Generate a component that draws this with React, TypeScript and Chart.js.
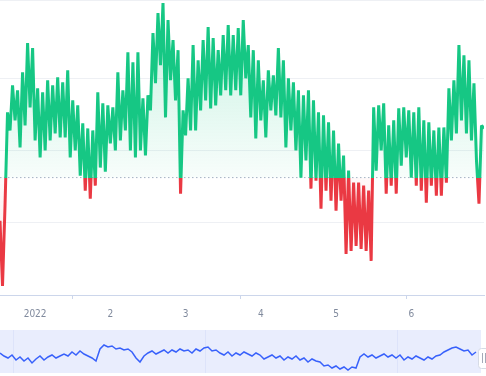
import React, { useEffect, useRef } from "react";
import { Chart, registerables } from "chart.js";

Chart.register(...registerables);

// ---- data ----
const MONTH_TICKS = [14, 44, 74, 104, 134, 164];
const MONTH_LABELS = ["2022", "2", "3", "4", "5", "6"];
const MINOR_TICKS = [29, 96, 162];
const X_MAX = 193;
const Y_MAX = 294;
const GRID_STEP = 72;
const BASELINE = 117;

const PRICE = [
  74, 9, 89, 182, 164, 209, 174, 204, 147, 222,
  169, 251, 187, 246, 154, 206, 137, 202, 144, 214,
  154, 209, 161, 217, 157, 212, 157, 224, 137, 194,
  144, 189, 119, 171, 104, 166, 96, 164, 109, 202,
  127, 191, 123, 189, 151, 187, 144, 222, 154, 204,
  164, 242, 144, 232, 137, 242, 144, 196, 139, 199,
  184, 261, 211, 281, 229, 291, 177, 274, 214, 254,
  194, 244, 101, 184, 159, 216, 164, 249, 164, 234,
  184, 254, 194, 267, 186, 256, 189, 244, 199, 259,
  204, 269, 199, 259, 204, 266, 199, 274, 216, 249,
  177, 244, 156, 234, 174, 214, 157, 224, 184, 219,
  179, 246, 177, 234, 147, 216, 164, 212, 144, 204,
  117, 199, 134, 204, 106, 194, 114, 182, 86, 179,
  104, 172, 94, 164, 84, 151, 94, 139, 41, 124,
  44, 112, 49, 112, 46, 109, 44, 104, 34, 187,
  124, 189, 144, 191, 101, 169, 109, 174, 101, 186,
  129, 187, 137, 184, 117, 182, 109, 187, 104, 174,
  92, 172, 109, 164, 99, 167, 99, 167, 112, 206,
  154, 214, 161, 249, 174, 239, 161, 234, 154, 211,
  134, 91, 169, 166,
];

const NAV_VALUES = [
  20, 17, 15, 18, 13, 16, 12, 15, 10, 14,
  17, 13, 16, 18, 15, 17, 19, 17, 21, 18,
  22, 19, 17, 15, 12, 24, 28, 26, 27, 24,
  25, 23, 24, 21, 15, 11, 17, 20, 22, 19,
  21, 23, 20, 23, 21, 24, 22, 23, 20, 24,
  22, 25, 26, 22, 23, 20, 18, 21, 17, 20,
  18, 21, 19, 17, 20, 18, 14, 16, 18, 15,
  17, 13, 16, 14, 17, 13, 15, 11, 14, 12,
  11, 7, 8, 5, 7, 4, 6, 3, 6, 5,
  16, 19, 16, 18, 15, 17, 19, 16, 18, 15,
  18, 13, 16, 14, 17, 15, 13, 16, 14, 17,
  18, 21, 23, 25, 26, 24, 22, 23, 18, 21,
];
const NAV_GRID = [3.25, 51.25, 99.25];
const NAV_X_MAX = 120.25;
const NAV_Y_MAX = 43;

// ---- styles ----
const GREEN = "#16c784";
const RED = "#ea3943";
const AXIS_COLOR = "#ccd6eb";
const GRID_COLOR = "#eef0f4";
const LABEL_COLOR = "#808a9d";
const NAV_BG = "#e9edfd";
const NAV_LINE = "#3861fb";
const FONT_FAMILY = "'Liberation Sans Narrow', 'DejaVu Sans Condensed', Roboto, sans-serif";

function baselineStop(chart: any): number | null {
  const area = chart.chartArea;
  if (!area || !chart.scales.y) return null;
  const y = chart.scales.y.getPixelForValue(BASELINE);
  return Math.min(1, Math.max(0, (y - area.top) / (area.bottom - area.top)));
}

const lineColor = (ctx: any) => {
  const chart = ctx.chart;
  const stop = baselineStop(chart);
  if (stop === null) return GREEN;
  const a = chart.chartArea;
  const g = chart.ctx.createLinearGradient(0, a.top, 0, a.bottom);
  g.addColorStop(0, GREEN);
  g.addColorStop(stop, GREEN);
  g.addColorStop(stop, RED);
  g.addColorStop(1, RED);
  return g;
};

const fillColor = (ctx: any) => {
  const chart = ctx.chart;
  const stop = baselineStop(chart);
  if (stop === null) return "rgba(22,199,132,0.1)";
  const a = chart.chartArea;
  const g = chart.ctx.createLinearGradient(0, a.top, 0, a.bottom);
  g.addColorStop(0, "rgba(22,199,132,0.26)");
  g.addColorStop(stop, "rgba(22,199,132,0.03)");
  g.addColorStop(stop, "rgba(234,57,67,0.03)");
  g.addColorStop(1, "rgba(234,57,67,0.14)");
  return g;
};

const navBackground = {
  id: "navBackground",
  beforeDraw(chart: any) {
    const { ctx, chartArea: a } = chart;
    ctx.save();
    ctx.fillStyle = NAV_BG;
    ctx.fillRect(a.left, a.top, a.right - a.left, a.bottom - a.top);
    ctx.restore();
  },
};

const navHandle = {
  id: "navHandle",
  afterDraw(chart: any) {
    const { ctx, chartArea: a } = chart;
    const x = a.right - 3;
    const y = a.top + 18;
    const w = 11;
    const h = 20;
    ctx.save();
    ctx.beginPath();
    ctx.roundRect(x + 0.5, y + 0.5, w, h, 3);
    ctx.fillStyle = "#ffffff";
    ctx.fill();
    ctx.strokeStyle = "#d6dbe6";
    ctx.lineWidth = 1;
    ctx.stroke();
    ctx.beginPath();
    ctx.moveTo(x + 4.5, y + 5);
    ctx.lineTo(x + 4.5, y + 15);
    ctx.moveTo(x + 7.5, y + 5);
    ctx.lineTo(x + 7.5, y + 15);
    ctx.strokeStyle = "#a3a9b8";
    ctx.stroke();
    ctx.restore();
  },
};

export default function App() {
  const mainRef = useRef<HTMLCanvasElement | null>(null);
  const navRef = useRef<HTMLCanvasElement | null>(null);

  useEffect(() => {
    document.body.style.margin = "0";
    const mainCtx = mainRef.current!.getContext("2d")!;
    const navCtx = navRef.current!.getContext("2d")!;

    const main = new Chart(mainCtx, {
      type: "line",
      data: {
        datasets: [
          {
            data: PRICE.map((v, i) => ({ x: i, y: v })),
            borderColor: lineColor,
            backgroundColor: fillColor,
            borderWidth: 3,
            borderJoinStyle: "bevel",
            pointRadius: 0,
            tension: 0,
            fill: { value: BASELINE },
          },
          {
            data: [
              { x: 0, y: BASELINE },
              { x: X_MAX, y: BASELINE },
            ],
            borderColor: "#a6b0c3",
            borderWidth: 1,
            borderDash: [1.5, 2.5],
            pointRadius: 0,
            fill: false,
          },
        ],
      },
      options: {
        animation: false,
        responsive: false,
        devicePixelRatio: 1,
        layout: { padding: { left: 0, right: 2, top: 0, bottom: 0 } },
        plugins: { legend: { display: false }, tooltip: { enabled: false } },
        scales: {
          xt: {
            type: "linear",
            position: "bottom",
            weight: 0,
            min: 0,
            max: X_MAX,
            afterBuildTicks: (s: any) => {
              s.ticks = MINOR_TICKS.map((v) => ({ value: v }));
            },
            grid: { drawOnChartArea: false, drawTicks: true, tickLength: 4, color: AXIS_COLOR },
            border: { display: true, color: AXIS_COLOR, width: 1 },
            ticks: { display: false },
          },
          x: {
            type: "linear",
            position: "bottom",
            weight: 1,
            min: 0,
            max: X_MAX,
            afterBuildTicks: (s: any) => {
              s.ticks = MONTH_TICKS.map((v) => ({ value: v }));
            },
            grid: { display: false },
            border: { display: false },
            ticks: {
              autoSkip: false,
              maxRotation: 0,
              padding: 1.5,
              color: LABEL_COLOR,
              font: { family: FONT_FAMILY, size: 10 },
              callback: (_v: any, i: number) => MONTH_LABELS[i],
            },
          },
          y: {
            type: "linear",
            min: 0,
            max: Y_MAX,
            ticks: { display: false, stepSize: GRID_STEP },
            grid: { color: GRID_COLOR, drawTicks: false },
            border: { display: false },
          },
        },
      },
    } as any);

    const nav = new Chart(navCtx, {
      type: "line",
      data: {
        datasets: [
          {
            data: NAV_VALUES.map((v, i) => ({ x: i, y: v })),
            borderColor: NAV_LINE,
            borderWidth: 1.5,
            pointRadius: 0,
            tension: 0,
            fill: false,
          },
        ],
      },
      options: {
        animation: false,
        responsive: false,
        devicePixelRatio: 1,
        layout: { padding: { left: 0, right: 5, top: 0, bottom: 0 } },
        plugins: { legend: { display: false }, tooltip: { enabled: false } },
        scales: {
          x: {
            type: "linear",
            min: 0,
            max: NAV_X_MAX,
            afterBuildTicks: (s: any) => {
              s.ticks = NAV_GRID.map((v) => ({ value: v }));
            },
            grid: { color: "#dde3fa", drawTicks: false },
            border: { display: false },
            ticks: { display: false },
          },
          y: { display: false, min: 0, max: NAV_Y_MAX },
        },
      },
      plugins: [navBackground, navHandle],
    } as any);

    return () => {
      main.destroy();
      nav.destroy();
    };
  }, []);

  return (
    <div style={{ position: "relative", width: 486, height: 376, background: "#fff" }}>
      <canvas
        ref={mainRef}
        width={486}
        height={322}
        style={{ position: "absolute", left: 0, top: 0, width: 486, height: 322 }}
      />
      <canvas
        ref={navRef}
        width={486}
        height={43}
        style={{ position: "absolute", left: 0, top: 330, width: 486, height: 43 }}
      />
    </div>
  );
}
